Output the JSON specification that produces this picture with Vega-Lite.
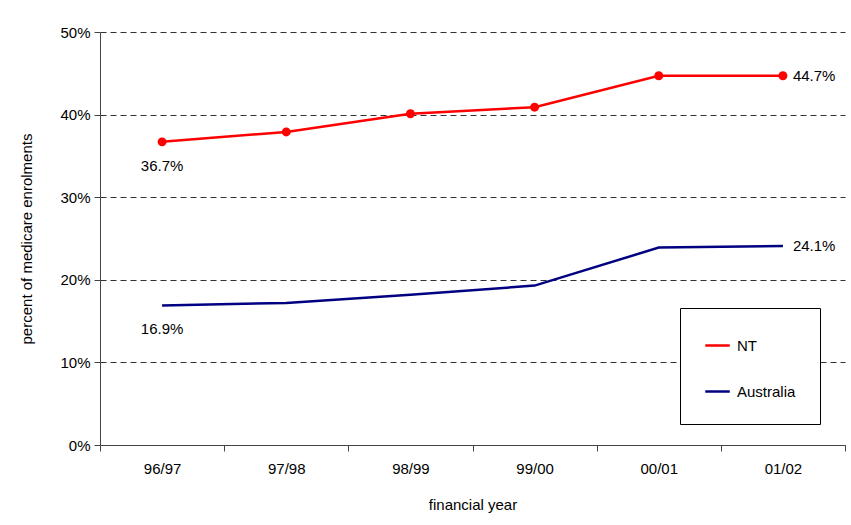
{
  "$schema": "https://vega.github.io/schema/vega-lite/v6.json",
  "width": 745,
  "height": 413,
  "autosize": "none",
  "padding": {"left": 100, "top": 32, "right": 6, "bottom": 80},
  "background": "white",
  "config": {
    "font": "Liberation Sans",
    "view": {"stroke": null},
    "axis": {"labelFont": "Liberation Sans", "titleFont": "Liberation Sans", "labelFontSize": 15, "titleFontSize": 15, "titleFontWeight": "normal", "labelColor": "black", "titleColor": "black", "domainColor": "#444", "tickColor": "#444"}
  },
  "data": {"values": [
    {"year": "96/97", "series": "NT", "v": 36.7, "lab": "36.7%", "pos": "below"},
    {"year": "97/98", "series": "NT", "v": 37.9},
    {"year": "98/99", "series": "NT", "v": 40.1},
    {"year": "99/00", "series": "NT", "v": 40.9},
    {"year": "00/01", "series": "NT", "v": 44.7},
    {"year": "01/02", "series": "NT", "v": 44.7, "lab": "44.7%", "pos": "right"},
    {"year": "96/97", "series": "Australia", "v": 16.9, "lab": "16.9%", "pos": "below"},
    {"year": "97/98", "series": "Australia", "v": 17.2},
    {"year": "98/99", "series": "Australia", "v": 18.2},
    {"year": "99/00", "series": "Australia", "v": 19.3},
    {"year": "00/01", "series": "Australia", "v": 23.9},
    {"year": "01/02", "series": "Australia", "v": 24.1, "lab": "24.1%", "pos": "right"}
  ]},
  "encoding": {
    "x": {"field": "year", "type": "ordinal", "sort": null, "title": "financial year",
      "axis": {"labelAngle": 0, "tickBand": "extent", "tickSize": 6, "labelPadding": 10, "titleY": 52, "domainColor": "#444"}},
    "y": {"field": "v", "type": "quantitative", "title": "percent of medicare enrolments",
      "scale": {"domain": [0, 50]},
      "axis": {"values": [0, 10, 20, 30, 40, 50], "labelExpr": "datum.value + '%'", "gridDash": [6, 4], "gridColor": "#333", "tickSize": 6, "titleX": -66, "labelPadding": 4}}
  },
  "layer": [
    {
      "mark": {"type": "line", "strokeWidth": 2.5},
      "encoding": {
        "color": {"field": "series", "type": "nominal", "sort": ["NT", "Australia"],
          "scale": {"domain": ["NT", "Australia"], "range": ["#ff0000", "#000080"]},
          "legend": {"title": null, "orient": "none", "legendX": 580, "legendY": 276, "strokeColor": "black", "fillColor": "white", "padding": 24, "rowPadding": 24, "symbolType": "stroke", "symbolSize": 600, "symbolStrokeWidth": 2.5, "labelFontSize": 15, "labelOffset": 6, "labelColor": "black", "labelFont": "Liberation Sans"}}
      }
    },
    {
      "transform": [{"filter": "datum.series == 'NT'"}],
      "mark": {"type": "point", "filled": true, "color": "#ff0000", "size": 80, "opacity": 1}
    },
    {
      "transform": [{"filter": "datum.pos == 'below'"}],
      "mark": {"type": "text", "dy": 24, "fontSize": 15, "color": "black"},
      "encoding": {"text": {"field": "lab"}}
    },
    {
      "transform": [{"filter": "datum.pos == 'right'"}],
      "mark": {"type": "text", "align": "left", "dx": 10, "fontSize": 15, "color": "black"},
      "encoding": {"text": {"field": "lab"}}
    }
  ]
}
